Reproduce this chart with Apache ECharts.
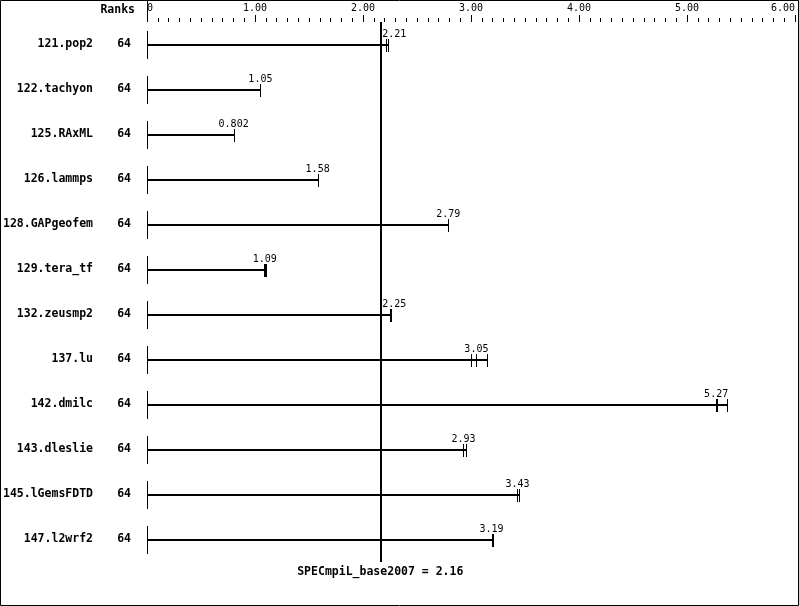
<!DOCTYPE html>
<html><head><meta charset="utf-8">
<script src="https://cdn.jsdelivr.net/npm/echarts@6/dist/echarts.min.js"></script>
<style>html,body{margin:0;padding:0;background:#fff}#c{width:799px;height:606px}</style>
</head><body><div id="c"></div>
<script>
var benchmarks = ['121.pop2','122.tachyon','125.RAxML','126.lammps','128.GAPgeofem','129.tera_tf','132.zeusmp2','137.lu','142.dmilc','143.dleslie','145.lGemsFDTD','147.l2wrf2'];
var ranks = [64,64,64,64,64,64,64,64,64,64,64,64];
var medians = [2.21,1.05,0.802,1.58,2.79,1.09,2.25,3.05,5.27,2.93,3.43,3.19];
var medianLabels = ['2.21','1.05','0.802','1.58','2.79','1.09','2.25','3.05','5.27','2.93','3.43','3.19'];
var run1 = [2.21,1.05,0.802,1.58,2.79,1.08,2.25,3.00,5.27,2.93,3.43,3.19];
var run2 = [2.21,1.05,0.802,1.58,2.79,1.09,2.25,3.05,5.28,2.93,3.43,3.19];
var run3 = [2.23,1.05,0.802,1.58,2.79,1.10,2.26,3.15,5.37,2.95,3.44,3.20];
var specScore = 2.16;
var specLabel = 'SPECmpiL_base2007 = 2.16';
var axisTicks = [0,1,2,3,4,5,6];

var MONO = '"DejaVu Sans Mono","Liberation Mono",monospace';
var chart = echarts.init(document.getElementById('c'), null, {renderer:'canvas'});

var data = benchmarks.map(function(b,i){
  return [i, medians[i], run1[i], run2[i], run3[i]];
});

function renderItem(params, api){
  var i = api.value(0);
  var med = api.value(1);
  var runs = [api.value(2), api.value(3), api.value(4)];
  var mx = Math.max.apply(null, runs.concat([med]));
  var p0 = api.coord([0, i]);
  var pm = api.coord([mx, i]);
  var pmed = api.coord([med, i]);
  var ps = api.coord([specScore, i]);
  var y = Math.round(p0[1]);
  var x0 = Math.round(p0[0]) + 0.5;
  var children = [];
  children.push({type:'line', shape:{x1:x0, y1:y-14, x2:x0, y2:y+14}, style:{stroke:'#000', lineWidth:1}});
  children.push({type:'line', shape:{x1:x0, y1:y, x2:Math.round(pm[0])+0.5, y2:y}, style:{stroke:'#000', lineWidth:2}});
  runs.forEach(function(r){
    var px = Math.round(api.coord([r, i])[0]) + 0.5;
    children.push({type:'line', shape:{x1:px, y1:y-6, x2:px, y2:y+7}, style:{stroke:'#000', lineWidth:1}});
  });
  var txt = medianLabels[params.dataIndex];
  var tw = txt.length * 6;
  var tx = pmed[0], align = 'center';
  if (Math.abs(pmed[0] - ps[0]) < tw/2 + 2) { tx = ps[0] + 2; align = 'left'; }
  children.push({type:'text', style:{text:txt, x:tx, y:y-6, align:align, verticalAlign:'bottom', font:'10px '+MONO, fill:'#000'}});
  return {type:'group', children:children};
}

chart.setOption({
  animation:false,
  backgroundColor:'#fff',
  grid:{left:147, right:4, top:22, height:540, containLabel:false},
  xAxis:{
    type:'value', position:'top', min:0, max:6, interval:1,
    axisLine:{show:false},
    axisTick:{show:true, length:7, lineStyle:{color:'#000', width:1}},
    minorTick:{show:true, splitNumber:10, length:4, lineStyle:{color:'#000', width:1}},
    splitLine:{show:false},
    axisLabel:{margin:9, color:'#000', fontFamily:MONO, fontSize:10, alignMinLabel:'left', alignMaxLabel:'right',
      formatter:function(v){ return axisTicks.indexOf(v)>=0 ? (v===0?'0':v.toFixed(2)) : ''; }}
  },
  yAxis:[
    {type:'category', data:benchmarks, inverse:true, position:'left',
     axisLine:{show:false}, axisTick:{show:false},
     axisLabel:{margin:54, color:'#000', fontFamily:MONO, fontWeight:'bold', fontSize:11.5}},
    {type:'category', data:ranks.map(String), inverse:true, position:'left', offset:0,
     axisLine:{show:false}, axisTick:{show:false},
     axisLabel:{margin:16, color:'#000', fontFamily:MONO, fontWeight:'bold', fontSize:11.5}}
  ],
  series:[{
    type:'custom', renderItem:renderItem, data:data, xAxisIndex:0, yAxisIndex:0,
    encode:{x:[1,2,3,4], y:0},
    markLine:{
      silent:true, symbol:['none','none'],
      lineStyle:{color:'#000', width:2, type:'solid'},
      label:{show:true, position:'end', formatter:specLabel, color:'#000', fontFamily:MONO, fontWeight:'bold', fontSize:11.5, distance:4},
      data:[{xAxis:specScore}]
    }
  }],
  graphic:[
    {type:'rect', shape:{x:0.5, y:0.5, width:798, height:605}, style:{fill:null, stroke:'#000', lineWidth:1}, silent:true},
    {type:'line', shape:{x1:147.5, y1:0, x2:147.5, y2:22}, style:{stroke:'#000', lineWidth:1}},
    {type:'text', x:135, y:10, style:{text:'Ranks', align:'right', verticalAlign:'middle', font:'bold 11.5px '+MONO, fill:'#000'}}
  ]
});
</script>
</body></html>
